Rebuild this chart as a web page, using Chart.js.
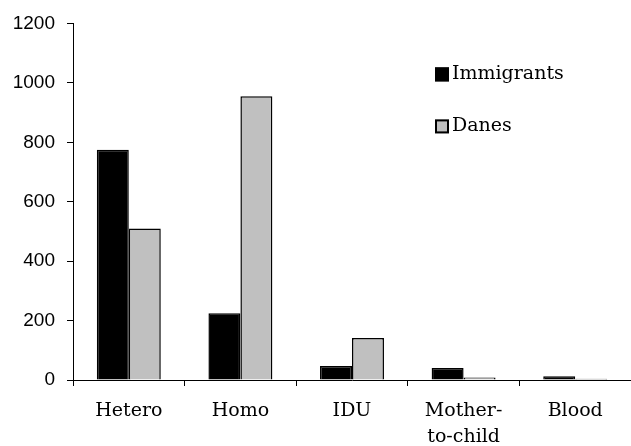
<!DOCTYPE html>
<html>
<head>
<meta charset="utf-8">
<script src="https://cdn.jsdelivr.net/npm/chart.js@4.4.1/dist/chart.umd.min.js"></script>
<style>
  html, body { margin: 0; padding: 0; background: #fff; }
  #wrap { width: 631px; height: 446px; }
</style>
</head>
<body>
<div id="wrap"><canvas id="hivChart"></canvas></div>
<script>
// Dữ liệu biểu đồ
const categories = ['Hetero', 'Homo', 'IDU', ['Mother-', 'to-child'], 'Blood'];
const immigrants = [775, 225, 47, 40, 13];
const danes = [510, 955, 141, 8, 4];
const yTicks = [0, 200, 400, 600, 800, 1000, 1200];

const serifFont = '"DejaVu Serif", serif';
const sansFont = '"Liberation Sans", Arial, sans-serif';

// Plugin vẽ chú thích bên trong vùng biểu đồ
const insideLegend = {
    id: 'insideLegend',
    afterDraw(chart) {
        const ctx = chart.ctx;
        const area = chart.chartArea;
        const x = area.left + 362;
        let y = area.top + 44;
        ctx.save();
        ctx.font = '19px ' + serifFont;
        ctx.textBaseline = 'middle';
        chart.data.datasets.forEach(ds => {
            ctx.fillStyle = ds.backgroundColor;
            ctx.fillRect(x, y, 14, 14);
            ctx.strokeStyle = '#000';
            ctx.lineWidth = 2;
            ctx.strokeRect(x + 1, y + 1, 12, 12);
            ctx.fillStyle = '#000';
            ctx.fillText(ds.label, x + 17, y + 7);
            y += 52;
        });
        ctx.restore();
    }
};

const ctx = document.getElementById('hivChart').getContext('2d');
new Chart(ctx, {
    type: 'bar',
    data: {
        labels: categories,
        datasets: [
            {
                label: 'Immigrants',
                data: immigrants,
                backgroundColor: '#000000',
                borderColor: '#000000',
                borderWidth: 1.5
            },
            {
                label: 'Danes',
                data: danes,
                backgroundColor: '#c0c0c0',
                borderColor: '#000000',
                borderWidth: 1.5
            }
        ]
    },
    options: {
        responsive: true,
        maintainAspectRatio: false,
        animation: false,
        layout: {
            padding: { top: 22, left: 10, right: 0, bottom: 0 }
        },
        datasets: {
            bar: {
                barPercentage: 1,
                categoryPercentage: 0.573
            }
        },
        plugins: {
            legend: { display: false },
            tooltip: { enabled: false }
        },
        scales: {
            x: {
                grid: {
                    offset: true,
                    drawOnChartArea: false,
                    drawTicks: true,
                    tickLength: 6,
                    color: '#000'
                },
                border: { display: true, color: '#000', width: 1 },
                ticks: {
                    color: '#000',
                    padding: 12,
                    maxRotation: 0,
                    autoSkip: false,
                    font: { family: serifFont, size: 19, lineHeight: 1.37 }
                },
                afterFit: (scale) => { scale.height = 66; }
            },
            y: {
                min: 0,
                max: 1200,
                afterBuildTicks: (scale) => {
                    scale.ticks = yTicks.map(v => ({ value: v }));
                },
                grid: {
                    drawOnChartArea: false,
                    drawTicks: true,
                    tickLength: 6,
                    color: '#000'
                },
                border: { display: true, color: '#000', width: 1 },
                ticks: {
                    color: '#000',
                    padding: 12,
                    font: { family: sansFont, size: 19 },
                    callback: (value) => String(value)
                },
                afterFit: (scale) => { scale.width = 63; }
            }
        }
    },
    plugins: [insideLegend]
});
</script>
</body>
</html>
